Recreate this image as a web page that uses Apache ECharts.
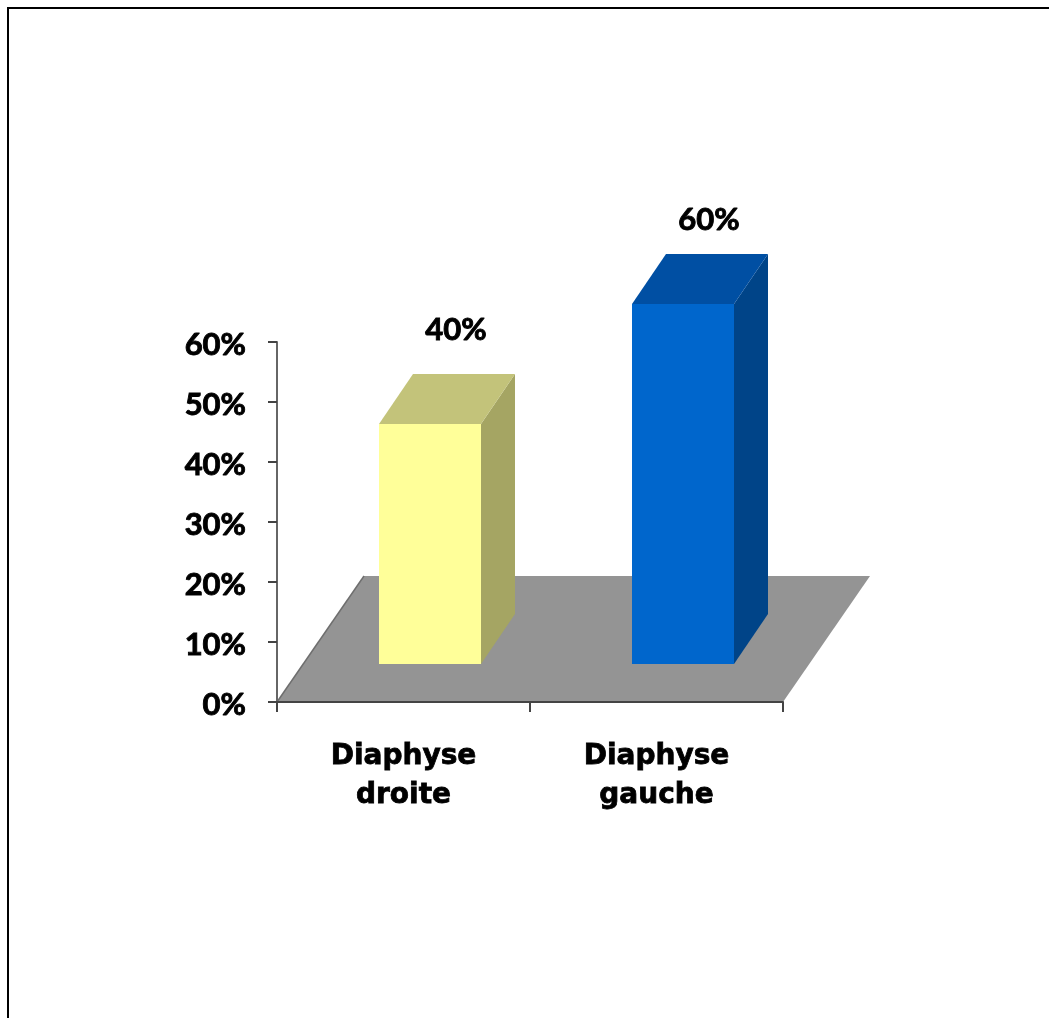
<!DOCTYPE html>
<html>
<head>
<meta charset="utf-8">
<style>
  html, body { margin: 0; padding: 0; background: #fff; }
  #frame { position: absolute; left: 7px; top: 7px; right: 0; bottom: 0; border-left: 2px solid #000; border-top: 2px solid #000; }
  #chart { position: absolute; left: 0; top: 0; width: 1049px; height: 1018px; }
</style>
<script src="https://cdn.jsdelivr.net/npm/echarts@6/dist/echarts.min.js"></script>
</head>
<body>
<div id="frame"></div>
<div id="chart"></div>
<script>
// Share of cases per femoral shaft side
const categories = ['Diaphyse\ndroite', 'Diaphyse\ngauche'];
const shares = [40, 60];
const axisTicks = [0, 10, 20, 30, 40, 50, 60];

// Box projection of the pseudo-3D bars, in pixels
const NUMBER_FONT = 'Lato';
const NAME_FONT = '"DejaVu Sans"';
const DEPTH_X = 34, DEPTH_Y = 50;
const BAR_WIDTH = 102, BAR_SHIFT = 26.5, BAR_LIFT = 38;
const FLOOR_X = 87, FLOOR_Y = 126;
const barFaces = [
  { front: '#FFFF99', top: '#C3C37A', side: '#A5A563' },
  { front: '#0066CC', top: '#004FA3', side: '#004488' }
];
const labelLift = [44, 34];

function drawFloor(params, api) {
  const box = params.coordSys;
  const left = box.x, right = box.x + box.width, base = box.y + box.height;
  return {
    type: 'group',
    children: [
      { type: 'polygon',
        shape: { points: [[left, base], [right, base], [right + FLOOR_X, base - FLOOR_Y], [left + FLOOR_X, base - FLOOR_Y]] },
        style: { fill: '#949494' } },
      { type: 'polyline',
        shape: { points: [[left + FLOOR_X, base - FLOOR_Y], [left, base]] },
        style: { stroke: '#6e6e6e', lineWidth: 1.5, fill: null } }
    ]
  };
}

function drawBar(params, api) {
  const i = api.value(0);
  const value = api.value(1);
  const zero = api.coord([i, 0]);
  const head = api.coord([i, value]);
  const x0 = zero[0] + BAR_SHIFT - BAR_WIDTH / 2;
  const x1 = x0 + BAR_WIDTH;
  const yb = zero[1] - BAR_LIFT;
  const yt = head[1] - BAR_LIFT;
  const faces = barFaces[i];
  return {
    type: 'group',
    children: [
      { type: 'polygon',
        shape: { points: [[x1, yt], [x1 + DEPTH_X, yt - DEPTH_Y], [x1 + DEPTH_X, yb - DEPTH_Y], [x1, yb]] },
        style: { fill: faces.side } },
      { type: 'polygon',
        shape: { points: [[x0, yt], [x0 + DEPTH_X, yt - DEPTH_Y], [x1 + DEPTH_X, yt - DEPTH_Y], [x1, yt]] },
        style: { fill: faces.top } },
      { type: 'rect',
        shape: { x: x0, y: yt, width: BAR_WIDTH, height: yb - yt },
        style: { fill: faces.front } },
      { type: 'text',
        x: (x0 + x1) / 2 + DEPTH_X / 2 + 9,
        y: yt - DEPTH_Y - labelLift[i],
        style: {
          text: value + '%', fill: '#000',
          stroke: '#000', lineWidth: 0.9,
          font: '700 31px ' + NUMBER_FONT,
          align: 'center', verticalAlign: 'middle'
        } }
    ]
  };
}

const chart = echarts.init(document.getElementById('chart'), null, { renderer: 'canvas' });
chart.setOption({
  animation: false,
  backgroundColor: 'transparent',
  grid: { left: 277, top: 342, width: 506, height: 360, containLabel: false },
  xAxis: {
    type: 'category',
    data: categories,
    z: 5,
    axisLine: { lineStyle: { color: '#444', width: 2 } },
    axisTick: { show: true, alignWithLabel: false, interval: 0, length: 10, lineStyle: { color: '#444', width: 2 } },
    axisLabel: {
      interval: 0, margin: 35, color: '#000', fontFamily: NAME_FONT, fontWeight: 700, fontSize: 28, lineHeight: 39,
      textBorderColor: '#000', textBorderWidth: 0.8
    }
  },
  yAxis: {
    type: 'value',
    min: axisTicks[0],
    max: axisTicks[axisTicks.length - 1],
    interval: axisTicks[1] - axisTicks[0],
    z: 5,
    splitLine: { show: false },
    axisLine: { show: true, lineStyle: { color: '#666', width: 2 } },
    axisTick: { show: true, length: 9, lineStyle: { color: '#444', width: 2 } },
    axisLabel: {
      margin: 31,
      formatter: '{n|{value}%}',
      rich: {
        n: {
          color: '#000', fontFamily: NUMBER_FONT, fontWeight: 700, fontSize: 31,
          textBorderColor: '#000', textBorderWidth: 0.9, padding: [5, 0, 0, 0]
        }
      }
    }
  },
  series: [
    { type: 'custom', silent: true, z: 1, renderItem: drawFloor, data: [[0, 0]], clip: false },
    { type: 'custom', silent: true, z: 2, renderItem: drawBar,
      data: shares.map((v, i) => [i, v]), encode: { x: 0, y: 1 }, clip: false }
  ]
});
</script>
</body>
</html>
